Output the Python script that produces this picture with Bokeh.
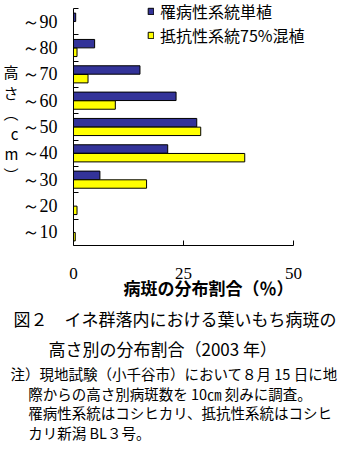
from bokeh.plotting import figure
from bokeh.models import Range1d, FixedTicker, Legend, LegendItem, ColumnDataSource, Title
from bokeh.embed import file_html
from bokeh.resources import INLINE

# ---- data ----
categories = ["～10", "～20", "～30", "～40", "～50", "～60", "～70", "～80", "～90"]
susceptible = [0, 0, 6.0, 21.4, 28.0, 23.3, 15.1, 4.8, 0.5]      # 罹病性系統単植
mixed = [0.4, 0.8, 16.6, 38.9, 28.9, 9.5, 3.3, 0.8, 0]           # 抵抗性系統75%混植
x_ticks = [0, 25, 50]
series_names = ["罹病性系統単植", "抵抗性系統75%混植"]
x_title = "病斑の分布割合（％）"
y_title = "高\nさ\n︵\nc\nm\n︶"
caption = ["図２　イネ群落内における葉いもち病斑の", "高さ別の分布割合（2003 年）"]
notes = ["注）現地試験（小千谷市）において８月 15 日に地",
         "際からの高さ別病斑数を 10㎝ 刻みに調査。",
         "罹病性系統はコシヒカリ、抵抗性系統はコシヒ",
         "カリ新潟 BL３号。"]

# ---- layout (figure pixels) ----
W, H = 343, 460
FL = 67            # frame left (y axis)
AX_TOP = 8         # top of the y axis
FB = 245           # frame bottom (x axis)
X_END = 292        # pixel of x = 50
JP = "Noto Sans CJK JP"
SERIF = "Liberation Serif"

n = len(categories)
px_per_cat = (FB - AX_TOP) / n
px_per_x = (X_END - FL) / x_ticks[-1]
y_top = FB / px_per_cat
x_right = x_ticks[-1] + (W - X_END) / px_per_x

centers = [i + 0.5 for i in range(n)]
bounds = [i + 1 for i in range(n)]
off, bh = 0.165, 0.32

src = ColumnDataSource(dict(
    y1=[c + off for c in centers], y2=[c - off for c in centers],
    s=susceptible, m=mixed))

p = figure(width=W, height=H, output_backend="svg", toolbar_location=None,
           x_range=Range1d(0, x_right), y_range=Range1d(0, y_top),
           min_border_left=FL, min_border_right=0,
           min_border_top=0, min_border_bottom=H - FB)
p.outline_line_color = None
p.xgrid.visible = False
p.ygrid.visible = False
p.background_fill_color = "white"

r1 = p.hbar(y="y1", left=0, right="s", height=bh, source=src,
            fill_color="#333399", line_color="black", line_width=1)
r2 = p.hbar(y="y2", left=0, right="m", height=bh, source=src,
            fill_color="#FFFF00", line_color="black", line_width=1)

# x axis
xa = p.xaxis[0]
xa.ticker = FixedTicker(ticks=x_ticks)
xa.bounds = (x_ticks[0], x_ticks[-1])
xa.major_tick_in = 5
xa.major_tick_out = 0
xa.minor_tick_line_color = None
xa.axis_line_color = "black"
xa.major_tick_line_color = "black"
xa.major_label_text_font = SERIF
xa.major_label_text_font_size = "17px"
xa.major_label_text_color = "black"
xa.major_label_standoff = 22
xa.axis_label = x_title
xa.axis_label_text_font = JP
xa.axis_label_text_font_size = "17px"
xa.axis_label_text_font_style = "bold"
xa.axis_label_text_color = "black"
xa.axis_label_standoff = -7

# y axis
ya = p.yaxis[0]
ya.ticker = FixedTicker(ticks=centers, minor_ticks=bounds)
ya.bounds = (0, n)
ya.major_label_overrides = {c: lab for c, lab in zip(centers, categories)}
ya.major_tick_in = 0
ya.major_tick_out = 0
ya.major_tick_line_color = None
ya.minor_tick_in = 5
ya.minor_tick_out = 0
ya.minor_tick_line_color = "black"
ya.axis_line_color = "black"
ya.major_label_text_font = SERIF
ya.major_label_text_font_size = "18px"
ya.major_label_text_color = "black"
ya.major_label_standoff = 16
ya.axis_label = y_title
ya.axis_label_orientation = "horizontal"
ya.axis_label_text_font = JP
ya.axis_label_text_font_size = "15px"
ya.axis_label_text_font_style = "normal"
ya.axis_label_text_color = "black"
ya.axis_label_text_line_height = 0.98
ya.axis_label_standoff = 0

# legend
legend = Legend(items=[LegendItem(label=series_names[0], renderers=[r1]),
                       LegendItem(label=series_names[1], renderers=[r2])],
                location=(74, 198), orientation="vertical",
                padding=0, margin=0, spacing=0,
                glyph_width=7, glyph_height=8, label_height=16,
                label_standoff=6, label_text_font=JP,
                label_text_font_size="16px", label_text_color="black",
                border_line_color=None, background_fill_alpha=0)
p.add_layout(legend)

# caption and notes as titles below the chart
def below(text, x, size, standoff, lh):
    p.add_layout(Title(text=text, align="left", offset=x - FL, text_font=JP,
                       text_font_size=size, text_font_style="normal",
                       text_color="black", standoff=standoff,
                       text_line_height=lh), "below")

below(caption[0], 7, "17px", 3, 1.0)
below(caption[1], 42, "17px", 3, 1.0)
note_text = notes[0] + "".join("\n\u3000  " + t for t in notes[1:])
below(note_text, 4, "14.5px", -3, 0.93)

open("out.html", "w").write(file_html(p, INLINE))
